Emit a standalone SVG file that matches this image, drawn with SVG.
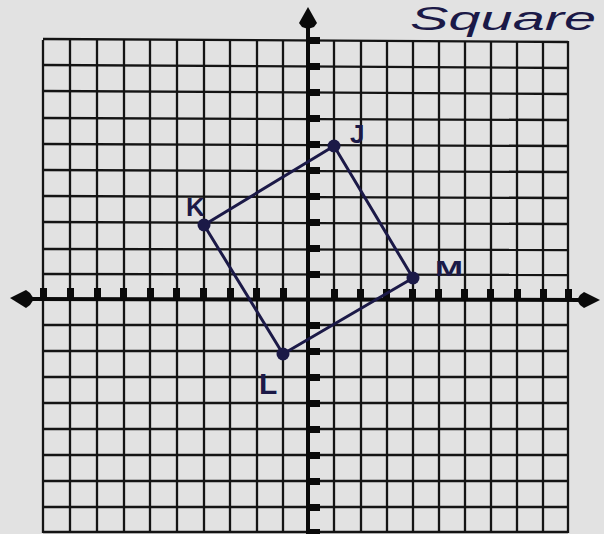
<svg xmlns="http://www.w3.org/2000/svg" width="604" height="534" viewBox="0 0 604 534">
  <defs>
    <style>
      .grid line { stroke: #141414; stroke-width: 2.3; }
      .axis { stroke: #0a0a0a; stroke-width: 4; fill: none; }
      .tick { fill: #0a0a0a; }
      .arrow { fill: #0a0a0a; }
      .side { stroke: #1b1947; stroke-width: 3; fill: none; stroke-linecap: round; }
      .dot { fill: #1b1947; }
      .lbl { font-family: "Liberation Sans", Arial, sans-serif; fill: #1b1947; }
      .title { font-family: "Liberation Sans", Arial, sans-serif; fill: #1b1947; font-style: italic; }
    </style>
  </defs>
  <rect x="0" y="0" width="604" height="534" fill="#e2e2e2"/>

  <g id="grid" class="grid">
    <line x1="43" y1="40" x2="43" y2="533"/>
    <line x1="70" y1="40" x2="70" y2="533"/>
    <line x1="97" y1="40" x2="97" y2="533"/>
    <line x1="124" y1="40" x2="124" y2="533"/>
    <line x1="150" y1="40" x2="150" y2="533"/>
    <line x1="177" y1="40" x2="177" y2="533"/>
    <line x1="204" y1="40" x2="204" y2="533"/>
    <line x1="230" y1="40" x2="230" y2="533"/>
    <line x1="257" y1="40" x2="257" y2="533"/>
    <line x1="283" y1="40" x2="283" y2="533"/>
    <line x1="334" y1="41" x2="334" y2="533"/>
    <line x1="361" y1="41" x2="361" y2="533"/>
    <line x1="387" y1="41" x2="387" y2="533"/>
    <line x1="413" y1="41" x2="413" y2="533"/>
    <line x1="439" y1="41" x2="439" y2="533"/>
    <line x1="465" y1="41" x2="465" y2="533"/>
    <line x1="491" y1="41" x2="491" y2="533"/>
    <line x1="517" y1="41" x2="517" y2="533"/>
    <line x1="543" y1="41" x2="543" y2="533"/>
    <line x1="568" y1="41" x2="568" y2="533"/>
    <line x1="43" y1="39" x2="568" y2="42"/>
    <line x1="43" y1="65" x2="568" y2="68"/>
    <line x1="43" y1="91" x2="568" y2="94"/>
    <line x1="43" y1="118" x2="568" y2="120"/>
    <line x1="43" y1="144" x2="568" y2="146"/>
    <line x1="43" y1="170" x2="568" y2="172"/>
    <line x1="43" y1="196" x2="568" y2="198"/>
    <line x1="43" y1="222" x2="568" y2="224"/>
    <line x1="43" y1="249" x2="568" y2="250"/>
    <line x1="43" y1="274" x2="568" y2="275"/>
    <line x1="43" y1="325" x2="568" y2="325"/>
    <line x1="43" y1="351" x2="568" y2="351"/>
    <line x1="43" y1="377" x2="568" y2="377"/>
    <line x1="43" y1="403" x2="568" y2="403"/>
    <line x1="43" y1="429" x2="568" y2="429"/>
    <line x1="43" y1="455" x2="568" y2="455"/>
    <line x1="43" y1="481" x2="568" y2="481"/>
    <line x1="43" y1="507" x2="568" y2="507"/>
    <line x1="43" y1="532" x2="568" y2="532"/>
  </g>

  <g id="axes">
    <line class="axis" x1="28" y1="299" x2="582" y2="300"/>
    <line class="axis" x1="308" y1="24" x2="308" y2="534"/>
    <path class="arrow" d="M10,298 L26,290 L30,293 L34,299 L30,305 L26,308 Z"/>
    <path class="arrow" d="M600,300 L584,292 L580,295 L577,300 L580,305 L584,308 Z"/>
    <path class="arrow" d="M308,7 L299,23 L302,27 L308,29 L314,27 L317,23 Z"/>
    <g class="tick">
      <rect x="40" y="288" width="7" height="11"/>
      <rect x="67" y="288" width="7" height="11"/>
      <rect x="94" y="288" width="7" height="11"/>
      <rect x="120" y="288" width="7" height="11"/>
      <rect x="147" y="288" width="7" height="11"/>
      <rect x="173" y="288" width="7" height="11"/>
      <rect x="200" y="288" width="7" height="11"/>
      <rect x="227" y="288" width="7" height="11"/>
      <rect x="253" y="288" width="7" height="11"/>
      <rect x="280" y="288" width="7" height="11"/>
      <rect x="331" y="289" width="7" height="11"/>
      <rect x="357" y="289" width="7" height="11"/>
      <rect x="383" y="289" width="7" height="11"/>
      <rect x="409" y="289" width="7" height="11"/>
      <rect x="435" y="289" width="7" height="11"/>
      <rect x="461" y="289" width="7" height="11"/>
      <rect x="487" y="289" width="7" height="11"/>
      <rect x="514" y="289" width="7" height="11"/>
      <rect x="540" y="289" width="7" height="11"/>
      <rect x="565" y="289" width="7" height="11"/>
      <rect x="308" y="37" width="12" height="7"/>
      <rect x="308" y="63" width="12" height="7"/>
      <rect x="308" y="89" width="12" height="7"/>
      <rect x="308" y="115" width="12" height="7"/>
      <rect x="308" y="141" width="12" height="7"/>
      <rect x="308" y="167" width="12" height="7"/>
      <rect x="308" y="193" width="12" height="7"/>
      <rect x="308" y="219" width="12" height="7"/>
      <rect x="308" y="245" width="12" height="7"/>
      <rect x="308" y="271" width="12" height="7"/>
      <rect x="308" y="322" width="12" height="7"/>
      <rect x="308" y="348" width="12" height="7"/>
      <rect x="308" y="374" width="12" height="7"/>
      <rect x="308" y="400" width="12" height="7"/>
      <rect x="308" y="426" width="12" height="7"/>
      <rect x="308" y="452" width="12" height="7"/>
      <rect x="308" y="478" width="12" height="7"/>
      <rect x="308" y="504" width="12" height="7"/>
      <rect x="308" y="529" width="12" height="7"/>
    </g>
  </g>

  <g id="connectors">
    <line class="side" x1="334" y1="146" x2="204" y2="225"/>
    <line class="side" x1="204" y1="225" x2="283" y2="354"/>
    <line class="side" x1="283" y1="354" x2="413" y2="278"/>
    <line class="side" x1="413" y1="278" x2="334" y2="146"/>
  </g>

  <g id="node-J">
    <circle class="dot" cx="334" cy="146" r="6.5"/>
    <text class="lbl" x="350" y="143" font-size="26" font-weight="bold">J</text>
  </g>
  <g id="node-K">
    <circle class="dot" cx="204" cy="225" r="6.5"/>
    <text class="lbl" x="186" y="216" font-size="26" font-weight="bold">K</text>
  </g>
  <g id="node-L">
    <circle class="dot" cx="283" cy="354" r="6.5"/>
    <text class="lbl" x="259" y="394" font-size="30" font-weight="bold">L</text>
  </g>
  <g id="node-M">
    <circle class="dot" cx="413" cy="278" r="6.5"/>
    <text class="lbl" x="435" y="276" font-size="22" font-weight="bold" textLength="28" lengthAdjust="spacingAndGlyphs">M</text>
  </g>

  <g id="title">
    <text class="title" x="410" y="30" font-size="34" textLength="186" lengthAdjust="spacingAndGlyphs">Square</text>
  </g>
</svg>
